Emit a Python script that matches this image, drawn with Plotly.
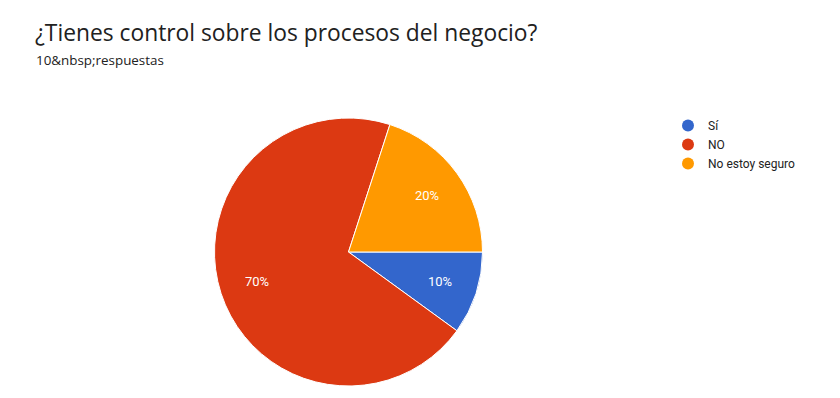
import math
import plotly.graph_objects as go

labels = ["Sí", "NO", "No estoy seguro"]
values = [1, 7, 2]
colors = ["#3366cc", "#dc3912", "#ff9900"]
title_text = "¿Tienes control sobre los procesos del negocio?"
subtitle_text = "10&amp;nbsp;respuestas"

W, H = 840, 398
cx, cy, r = 348.5, 252, 134
label_frac = 0.72

fig = go.Figure()
fig.add_trace(go.Pie(
    labels=labels, values=values, sort=False, direction="clockwise", rotation=90,
    marker=dict(colors=colors, line=dict(color="white", width=1)),
    textinfo="none", showlegend=False, hoverinfo="label+percent",
    domain=dict(x=[(cx - r) / W, (cx + r) / W], y=[(H - cy - r) / H, (H - cy + r) / H]),
))
for lab, col in zip(labels, colors):
    fig.add_trace(go.Scatter(x=[None], y=[None], mode="markers", name=lab,
                             marker=dict(symbol="circle", size=11, color=col)))

# slice labels placed along each slice's mid-angle (clockwise from 3 o'clock)
total = sum(values)
annotations = []
start = 0.0
for v in values:
    frac = v / total
    mid = start + frac * 180.0  # degrees clockwise
    ang = math.radians(-mid)
    px = cx + label_frac * r * math.cos(ang)
    py = cy - label_frac * r * math.sin(ang)
    annotations.append(dict(text=f"{round(frac * 100)}%", x=px / W, y=1 - py / H,
                            xref="paper", yref="paper", showarrow=False,
                            xanchor="center", yanchor="middle",
                            font=dict(family="Roboto", size=13, color="white")))
    start += frac * 360.0

annotations += [
    dict(text=title_text, x=33 / W, y=1 - 33 / H, xref="paper", yref="paper",
         xanchor="left", yanchor="middle", showarrow=False,
         font=dict(family="Open Sans", size=22.8, color="#212121")),
    dict(text=subtitle_text, x=34 / W, y=1 - 60 / H, xref="paper", yref="paper",
         xanchor="left", yanchor="middle", showarrow=False,
         font=dict(family="Open Sans", size=13.4, color="#212121")),
]

fig.update_layout(
    width=W, height=H, margin=dict(l=0, r=0, t=0, b=0),
    paper_bgcolor="white", plot_bgcolor="white",
    xaxis=dict(visible=False), yaxis=dict(visible=False),
    legend=dict(x=668 / W, y=1 - 111 / H, xanchor="left", yanchor="top",
                font=dict(family="Roboto", size=12, color="#222222"),
                tracegroupgap=0, itemsizing="constant", bgcolor="rgba(0,0,0,0)"),
    annotations=annotations,
)
fig.write_html("out.html")
